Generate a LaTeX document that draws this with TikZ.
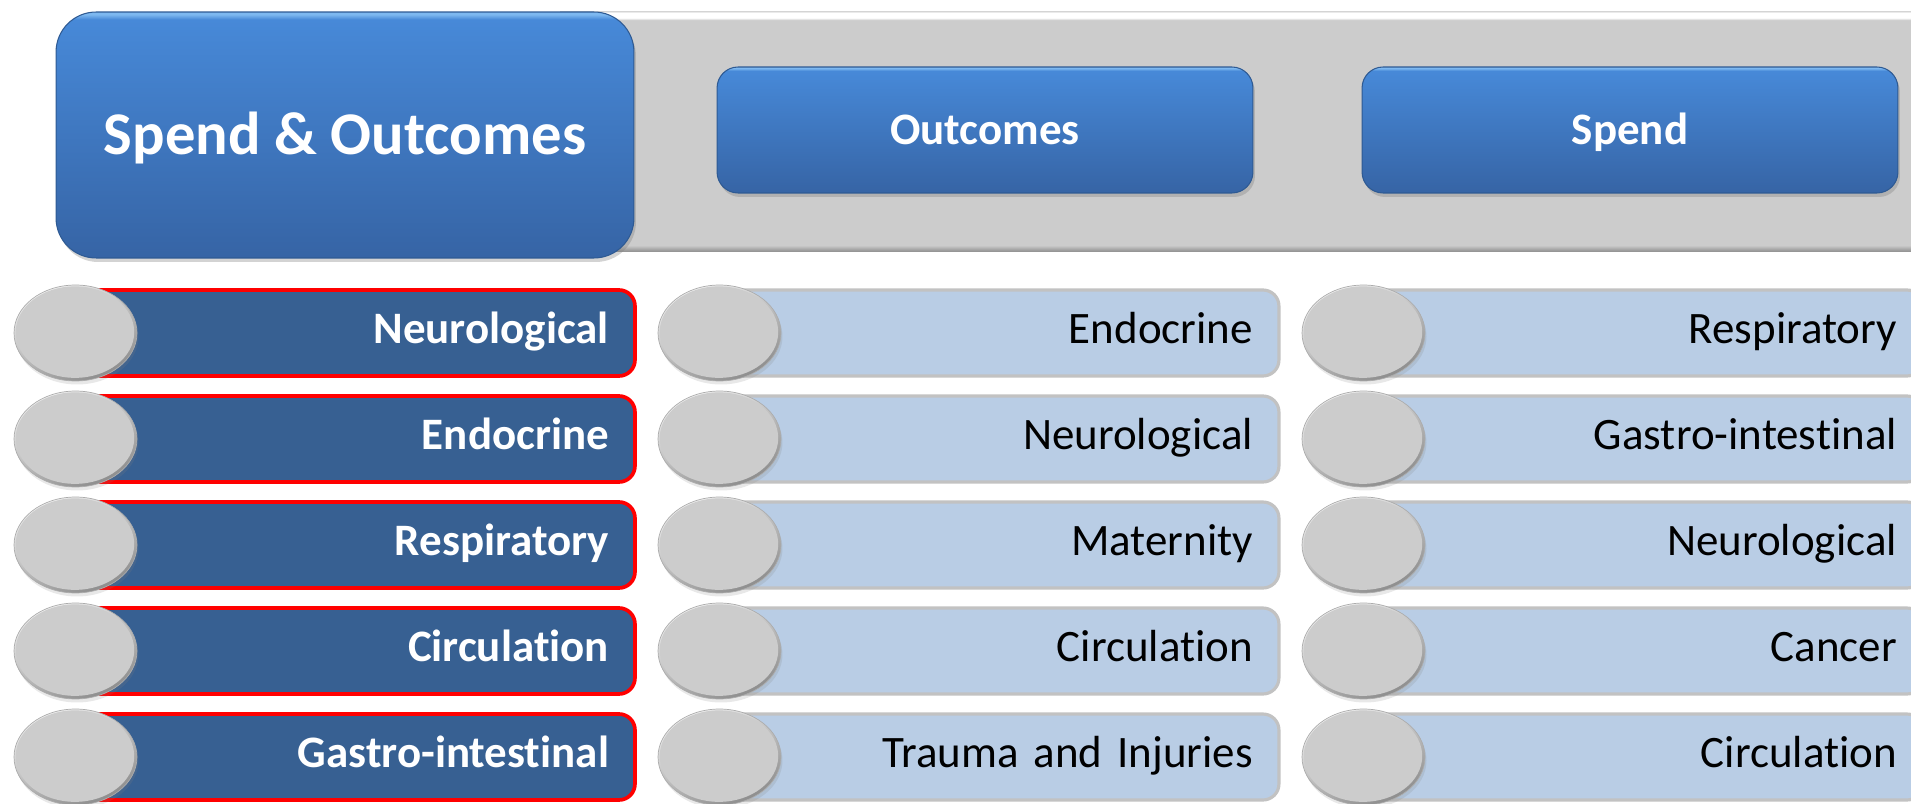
\documentclass[tikz,border=0pt]{standalone}
\usepackage{fontspec}
\setmainfont{Carlito}[Ligatures=NoCommon]
\usetikzlibrary{shapes,shadows}
\usepackage{xcolor}
\definecolor{bandgray}{HTML}{CCCCCC}
\definecolor{bandedge}{HTML}{8E8E8E}
\definecolor{bandmid}{HTML}{A6A6A6}
\definecolor{bandline}{HTML}{D4D4D4}
\definecolor{btntop}{HTML}{4789D8}
\definecolor{btnlow}{HTML}{3664A5}
\definecolor{btnhi}{HTML}{7DB8F0}
\definecolor{btnrim}{HTML}{2E5A93}
\definecolor{sumblue}{HTML}{376092}
\definecolor{sumred}{HTML}{FF0000}
\definecolor{optblue}{HTML}{B9CDE5}
\definecolor{optrim}{HTML}{C2C2C2}
\definecolor{knobhi}{HTML}{F0F0F0}
\definecolor{knoblo}{HTML}{8C8C8C}
\definecolor{knobface}{HTML}{CCCCCC}
\pgfdeclareverticalshading{bandshade}{100bp}{color(0bp)=(bandedge); color(25bp)=(bandedge); color(25.6bp)=(bandmid); color(26.4bp)=(bandgray); color(73.1bp)=(bandgray); color(73.6bp)=(white); color(74.6bp)=(white); color(75bp)=(bandline); color(100bp)=(bandline)}
\pgfdeclareverticalshading{btnshade}{100bp}{color(0bp)=(btnlow); color(25bp)=(btnlow); color(73.5bp)=(btntop); color(74.5bp)=(btnhi); color(75bp)=(btnhi); color(100bp)=(btnhi)}
\tikzstyle{band}=[rectangle, inner sep=0pt, minimum width=27.5cm, minimum height=4.82cm, shading=bandshade]
\tikzstyle{btn}=[rectangle, rounded corners=0.42cm, shading=btnshade, draw=btnrim, line width=0.6pt, text=white, font=\bfseries\fontsize{25.6}{30}\selectfont, text height=16.5pt, text depth=0pt, drop shadow={opacity=0.35, shadow xshift=0.04cm, shadow yshift=-0.08cm}]
\tikzstyle{titlebtn}=[btn, rounded corners=0.8cm, font=\bfseries\fontsize{34.5}{40}\selectfont, text height=22.2pt]
\tikzstyle{row}=[rectangle, minimum width=11.1cm, minimum height=1.72cm, inner xsep=0.52cm, text width=10.06cm, align=right, rounded corners=0.32cm, text height=16.6pt, text depth=4.6pt]
\tikzstyle{sumbox}=[row, fill=sumblue, draw=sumred, line width=2.1pt, text=white, font=\bfseries\fontsize{25.6}{30}\selectfont]
\tikzstyle{optbox}=[row, fill=optblue, draw=optrim, line width=1.8pt, text=black, font=\fontsize{25.6}{30}\selectfont]
\tikzstyle{knob}=[ellipse, minimum width=2.46cm, minimum height=1.92cm, inner sep=0pt, draw=gray!65, line width=0.4pt, top color=knobhi, bottom color=knoblo, shading angle=25, drop shadow={opacity=0.18, shadow xshift=0.03cm, shadow yshift=-0.07cm}, path picture={\fill[knobface] ([xshift=-0.3pt, yshift=0.5pt]path picture bounding box.center) ellipse [x radius=1.185cm, y radius=0.915cm];}]

\begin{document}
\begin{tikzpicture}[x=0.02cm, y=-0.02cm]
    \useasboundingbox (0,0) rectangle (1911,804);
    \clip (0,0) rectangle (1911,804);

    % header
    \node[band] at (1247.5,131.5) (band) {};
    \node[titlebtn, minimum width=11.56cm, minimum height=4.92cm] at (345,135) (title) {Spend \& Outcomes};
    \node[btn, minimum width=10.72cm, minimum height=2.52cm] at (985,130) (outc) {Outcomes};
    \node[btn, minimum width=10.72cm, minimum height=2.52cm] at (1630,130) (spnd) {Spend};

    % spend & outcomes
    \node[sumbox] at (357.5,333) (a1) {Neurological};
    \node[sumbox] at (357.5,439) (a2) {Endocrine};
    \node[sumbox] at (357.5,545) (a3) {Respiratory};
    \node[sumbox] at (357.5,651) (a4) {Circulation};
    \node[sumbox] at (357.5,757) (a5) {Gastro-intestinal};
    \node[knob] at (75.5,333) (ka1) {};
    \node[knob] at (75.5,439) (ka2) {};
    \node[knob] at (75.5,545) (ka3) {};
    \node[knob] at (75.5,651) (ka4) {};
    \node[knob] at (75.5,757) (ka5) {};

    % outcomes
    \node[optbox] at (1001.5,333) (b1) {Endocrine};
    \node[optbox] at (1001.5,439) (b2) {Neurological};
    \node[optbox] at (1001.5,545) (b3) {Maternity};
    \node[optbox] at (1001.5,651) (b4) {Circulation};
    \node[optbox] at (1001.5,757) (b5) {Trauma and Injuries};
    \node[knob] at (719.5,333) (kb1) {};
    \node[knob] at (719.5,439) (kb2) {};
    \node[knob] at (719.5,545) (kb3) {};
    \node[knob] at (719.5,651) (kb4) {};
    \node[knob] at (719.5,757) (kb5) {};

    % spend
    \node[optbox] at (1645.5,333) (c1) {Respiratory};
    \node[optbox] at (1645.5,439) (c2) {Gastro-intestinal};
    \node[optbox] at (1645.5,545) (c3) {Neurological};
    \node[optbox] at (1645.5,651) (c4) {Cancer};
    \node[optbox] at (1645.5,757) (c5) {Circulation};
    \node[knob] at (1363.5,333) (kc1) {};
    \node[knob] at (1363.5,439) (kc2) {};
    \node[knob] at (1363.5,545) (kc3) {};
    \node[knob] at (1363.5,651) (kc4) {};
    \node[knob] at (1363.5,757) (kc5) {};
\end{tikzpicture}
\end{document}
